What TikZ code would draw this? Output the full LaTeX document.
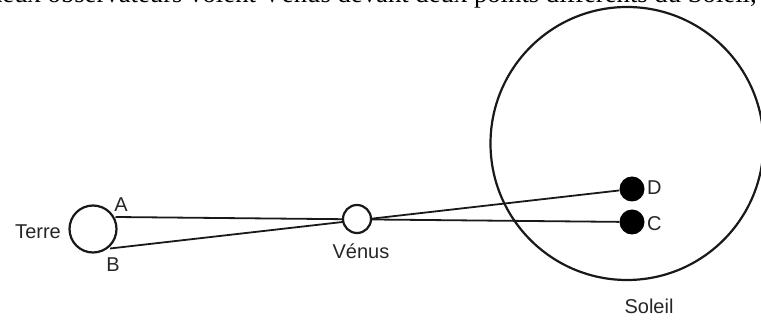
\documentclass[tikz,border=0pt]{standalone}
\usepackage{fontspec}
\setmainfont{Liberation Serif}
\setsansfont{Liberation Sans}
\begin{document}
\begin{tikzpicture}[x=1pt,y=-1pt,
  lbl/.style={font=\sffamily\fontsize{20}{22}\selectfont, text=black!85, inner sep=0pt},
  body/.style={circle, draw=black!90, line width=2.2pt, fill=white, inner sep=0pt},
  spot/.style={circle, fill=black, inner sep=0pt, minimum size=25pt},
  ray/.style={draw=black!90, line width=1.8pt}]
\useasboundingbox (0,0) rectangle (761,320);
\clip (0,0) rectangle (761,320);
\fill[white] (0,0) rectangle (761,320);
% clipped heading line
\node[anchor=base east, inner sep=0pt, font=\fontsize{26.7}{30}\selectfont] (head) at (757,2.5) {deux observateurs voient Vénus devant deux points différents du Soleil,};
% Sun
\node[body, minimum size=273pt, fill=none] (sun) at (627,143.5) {};
\node[lbl] (soleil) at (649,306) {Soleil};
% spots
\node[spot] (D) at (632,189) {};
\node[spot] (C) at (632,222) {};
\node[lbl, anchor=west] (Dl) at (647,188) {D};
\node[lbl, anchor=west] (Cl) at (647,224) {C};
% Earth
\node[body, minimum size=47pt] (terre) at (93,229) {};
\coordinate (A) at (115.5,217);
\coordinate (B) at (110,248.5);
\node[lbl] (Al) at (121,205) {A};
\node[lbl] (Bl) at (113,265) {B};
\node[lbl, anchor=east] (terrel) at (61,232) {Terre};
% rays
\draw[ray] (A) -- (C);
\draw[ray] (B) -- (D);
% Venus
\node[body, minimum size=28pt] (venus) at (357,219) {};
\node[lbl] (venusl) at (361,251) {Vénus};
\end{tikzpicture}
\end{document}
